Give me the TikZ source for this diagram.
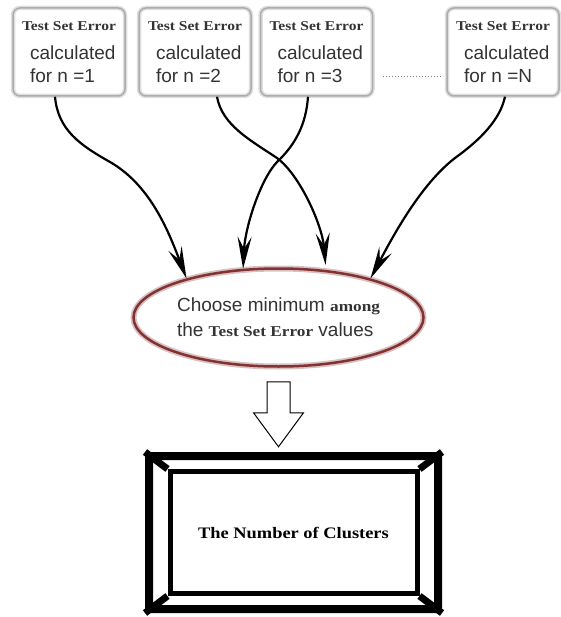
\documentclass[tikz,border=0pt]{standalone}
\usepackage{fontspec}
\setsansfont{Liberation Sans}
\newfontfamily\tsefont[FakeStretch=1.15]{Liberation Serif}
\usetikzlibrary{arrows.meta,calc,positioning,shapes.geometric}
\definecolor{ellred}{RGB}{130,50,50}
\tikzset{errbox/.style={draw=gray!65, line width=1.5pt, rounded corners=7pt,
    preaction={draw=gray!25, line width=4.5pt},
    minimum width=112pt, minimum height=88pt, inner sep=0pt, align=left,
    font=\fontsize{19}{23}\selectfont\sffamily, text=black!80}}
\tikzstyle{flow}=[line width=2.2pt, -{Stealth[length=32pt,width=14pt,inset=12pt]}]
\newcommand{\tse}[2]{{\tsefont\bfseries\fontsize{#1}{#1}\selectfont #2}}
\newcommand{\boxtext}[1]{\tse{13.5}{Test Set Error}\\[6pt]\hspace*{8pt}calculated\\\hspace*{8pt}for n =#1}

\begin{document}
\begin{tikzpicture}[x=1pt,y=-1pt]
\useasboundingbox (0,0) rectangle (560,617);
% the four error boxes
\node[errbox] (b1) at (69,52) {\boxtext{1}};
\node[errbox] (b2) at (195,52) {\boxtext{2}};
\node[errbox] (b3) at (316.5,52) {\boxtext{3}};
\node[errbox] (b4) at (503,52) {\boxtext{N}};
\draw[dotted, line width=1pt, gray] ($(b3.east)+(10,25)$) -- ($(b4.west)+(-3,25)$);

\node[ellipse, draw=ellred, line width=2.5pt, preaction={draw=ellred!30, line width=6pt},
  minimum width=290pt, minimum height=98pt, inner sep=0pt, align=left,
  font=\fontsize{19}{25}\selectfont\sffamily, text=black!80] (ell) at (278.5,317.5)
  {Choose minimum \tse{15}{among}\\the \tse{15}{Test Set Error} values};

\draw[flow] ([xshift=-14pt]b1.south) .. controls (58,130) and (80,145) .. (110,162)
  .. controls (150,185) and (168,230) .. (ell.157);
\draw[flow, shorten >=5pt] ([xshift=22pt]b2.south) .. controls (222,125) and (250,140) .. (277,158)
  .. controls (300,175) and (322,225) .. (ell.45);
\draw[flow] ([xshift=-8.5pt]b3.south) .. controls (306,125) and (295,145) .. (277,162)
  .. controls (260,180) and (245,228) .. (ell.126);
\draw[flow] ([xshift=2pt]b4.south) .. controls (500,120) and (480,140) .. (455,158)
  .. controls (420,185) and (392,238) .. (ell.23);

% hollow arrow and result frame
\coordinate (down) at ($(ell.south)+(0,14)$);
\draw[line width=1pt, fill=white] (down) ++(-11.5,0) -- ++(23,0) -- ++(0,31) -- ++(13.5,0)
  -- ++(-25,34) -- ++(-25,-34) -- ++(13.5,0) -- cycle;

\node[draw, line width=8pt, rounded corners=2pt, minimum width=289pt, minimum height=153pt] (res) at (293.5,532.5) {};
\node[draw, line width=5pt, minimum width=247pt, minimum height=122pt] (inner) at (res.center)
  {\tse{16}{The Number of Clusters}};
\foreach \c in {north west,north east,south west,south east}
  \draw[line width=7pt] (res.\c) -- (inner.\c);
\end{tikzpicture}
\end{document}
